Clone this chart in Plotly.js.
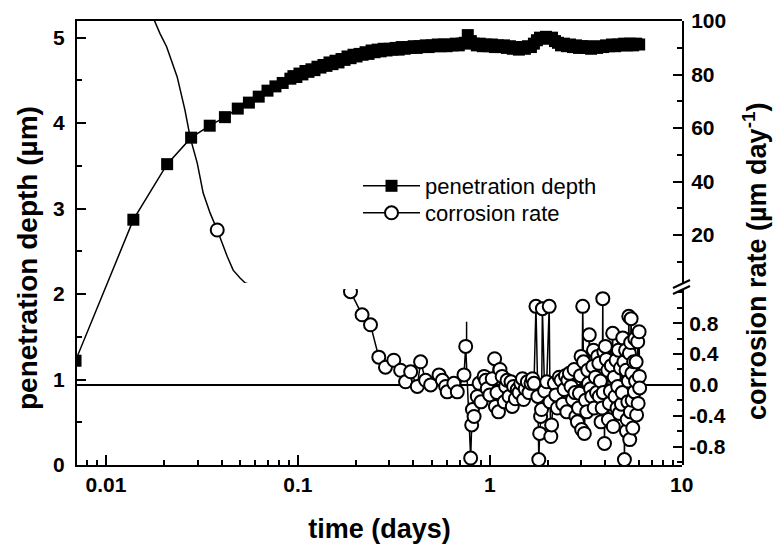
<!DOCTYPE html>
<html><head><meta charset="utf-8">
<script src="https://cdn.plot.ly/plotly-3.0.1.min.js"></script>
<style>html,body{margin:0;padding:0;background:#fff}</style>
</head><body>
<div id="chart" style="width:774px;height:544px"></div>
<script>
// ---- data ----
const depthTime = [0.00694,0.01389,0.02083,0.02778,0.03472,0.04167,0.04861,0.05556,0.0625,0.06944,0.07639,0.08333,
  0.0914,0.0948,0.0982,0.1019,0.1056,0.1095,0.1135,0.1177,0.1220,0.1265,
  0.1311,0.1359,0.1409,0.1461,0.1515,0.1570,0.1628,0.1688,0.1750,0.1814,
  0.1881,0.1950,0.2021,0.2096,0.2173,0.2252,0.2335,0.2421,0.2510,0.2602,
  0.2698,0.2797,0.2900,0.3006,0.3117,0.3231,0.3350,0.3473,0.3600,0.3733,
  0.3870,0.4012,0.4159,0.4312,0.4470,0.4635,0.4805,0.4981,0.5164,0.5354,
  0.5551,0.5755,0.5966,0.6185,0.6412,0.6648,0.6892,0.7145,0.7408,0.7680,
  0.7962,0.8255,0.8558,0.8872,0.9198,0.9536,0.9886,1.025,1.063,1.102,
  1.142,1.184,1.228,1.273,1.319,1.368,1.418,1.470,1.524,1.580,
  1.638,1.698,1.761,1.826,1.893,1.962,2.034,2.109,2.186,2.267,
  2.350,2.436,2.526,2.619,2.715,2.815,2.918,3.025,3.136,3.252,
  3.371,3.495,3.623,3.756,3.894,4.037,4.186,4.339,4.499,4.664,
  4.835,5.013,5.197,5.388,5.586,5.791,6.004];
const depthValue = [1.22,2.87,3.52,3.83,3.97,4.07,4.17,4.24,4.31,4.38,4.43,4.47,
  4.52,4.55,4.54,4.58,4.57,4.61,4.60,4.63,4.62,4.66,
  4.65,4.68,4.67,4.71,4.69,4.73,4.71,4.75,4.74,4.78,
  4.76,4.80,4.78,4.81,4.80,4.83,4.81,4.85,4.83,4.86,
  4.84,4.87,4.85,4.87,4.86,4.88,4.86,4.89,4.87,4.89,
  4.88,4.90,4.88,4.90,4.89,4.91,4.89,4.91,4.90,4.92,
  4.90,4.92,4.90,4.92,4.91,4.93,4.91,4.93,4.94,5.03,
  4.96,4.93,4.91,4.93,4.90,4.92,4.90,4.92,4.89,4.91,
  4.89,4.91,4.88,4.90,4.87,4.89,4.86,4.89,4.87,4.90,
  4.89,4.93,4.97,5.00,4.99,5.01,4.99,5.00,4.96,4.94,
  4.91,4.93,4.90,4.92,4.89,4.91,4.88,4.90,4.88,4.90,
  4.87,4.89,4.88,4.90,4.89,4.91,4.90,4.92,4.90,4.92,
  4.91,4.93,4.91,4.93,4.91,4.93,4.92];

// corrosion rate, high values (upper part of the broken right axis)
const rateHighTime = [0.0165,0.0191,0.0207,0.0235,0.0258,0.0275,0.0299,0.0321,0.0349,0.038,0.0428,0.046,0.0501,0.0532,0.06];
const rateHighValue = [106,95.4,90.4,79.1,66.7,56.3,46.9,35.7,28.2,21.9,12.1,6.9,3.9,2.1,1.0];
const rateHighMarkTime = [0.038];
const rateHighMarkValue = [21.9];

// corrosion rate, low values (lower part of the broken right axis)
const rateTime = [0.188,0.216,0.239,0.264,0.286,0.316,0.343,0.364,0.387,0.419,
  0.436,0.463,0.492,0.544,0.566,0.589,0.600,0.650,0.677,0.734,
  0.749,0.795,0.805,0.812,0.828,0.861,0.88,0.90,0.934,0.953,
  0.97,1.00,1.03,1.06,1.07,1.09,1.11,1.13,1.16,1.19,
  1.21,1.23,1.26,1.29,1.31,1.33,1.36,1.39,1.42,1.45,
  1.48,1.50,1.53,1.57,1.60,1.64,1.67,1.70,1.74,1.78,
  1.80,1.82,1.84,1.86,1.88,1.93,1.98,2.04,2.06,2.08,
  2.10,2.17,2.21,2.25,2.30,2.35,2.40,2.44,2.48,2.52,
  2.55,2.60,2.65,2.70,2.75,2.78,2.81,2.86,2.90,2.93,
  2.97,2.99,3.01,3.05,3.08,3.11,3.15,3.20,3.24,3.27,
  3.30,3.35,3.40,3.44,3.47,3.50,3.55,3.60,3.65,3.70,
  3.72,3.77,3.80,3.85,3.88,3.90,3.93,3.96,4.00,4.05,
  4.12,4.15,4.20,4.25,4.30,4.37,4.40,4.45,4.50,4.55,
  4.60,4.64,4.68,4.73,4.80,4.85,4.90,4.93,5.00,5.03,
  5.10,5.13,5.15,5.20,5.24,5.27,5.30,5.34,5.36,5.40,
  5.42,5.45,5.50,5.52,5.56,5.62,5.67,5.70,5.75,5.79,
  5.82,5.90,5.93,6.00,6.02,6.04];
const rateValue = [1.21,0.91,0.78,0.36,0.23,0.32,0.19,0.04,0.17,-0.02,
  0.30,0.06,0.00,0.13,0.06,-0.02,-0.09,0.02,-0.09,0.13,
  0.50,-0.95,-0.52,-0.32,-0.41,-0.15,0.02,-0.22,0.11,0.06,
  -0.05,-0.13,0.08,0.34,-0.28,-0.10,-0.35,0.20,0.11,-0.22,
  -0.02,0.06,-0.15,0.04,-0.28,-0.02,-0.18,-0.06,-0.10,0.02,
  0.08,-0.19,-0.05,0.04,-0.10,0.02,0.08,0.02,1.02,-0.15,
  -0.97,-0.63,-0.41,-0.32,0.99,-0.08,0.04,1.02,-0.22,-0.67,
  -0.52,0.02,-0.13,-0.30,0.10,0.06,-0.25,-0.06,0.12,-0.35,
  0.06,0.15,-0.02,-0.19,0.20,-0.10,-0.41,-0.48,-0.30,-0.11,
  0.12,0.37,-0.58,1.02,0.30,-0.63,-0.20,-0.35,0.19,0.02,
  0.65,-0.05,-0.15,0.24,0.45,-0.30,0.10,-0.10,0.37,0.28,
  -0.15,0.05,-0.48,-0.30,1.12,-0.10,0.43,-0.76,0.50,0.33,
  0.19,-0.45,-0.24,-0.08,0.25,0.67,-0.54,0.10,-0.15,0.32,
  -0.30,-0.02,0.45,-0.37,0.22,-0.25,-0.10,0.61,0.30,-0.97,
  0.45,0.19,-0.60,-0.45,-0.22,0.05,0.89,0.41,-0.71,-0.35,
  0.55,0.86,0.15,-0.20,-0.56,0.30,-0.09,0.60,0.05,0.30,
  -0.39,0.56,-0.24,0.69,0.11,-0.04];
const rateSpikeTime = [0.757,0.757];
const rateSpikeValue = [0.50,0.82];

const xTickVals = [0.01,0.1,1,10];
const xTickText = ['0.01','0.1','1','10'];
const depthTickVals = [0,1,2,3,4,5];
const rateHighTickVals = [20,40,60,80,100];
const rateLowTickVals = [-0.8,-0.4,0,0.4,0.8];
const rateLowTickText = ['-0.8','-0.4','0.0','0.4','0.8'];

// ---- style ----
const FONT = 'Liberation Sans, Arial, Helvetica, sans-serif';
const tickFont = {family: FONT, size: 21, color: '#000', weight: 'bold'};
const titleFont = {family: FONT, size: 27, color: '#000', weight: 'bold'};
const leftTitleFont = {family: FONT, size: 28, color: '#000', weight: 'bold'};
const legendFont = {family: FONT, size: 22, color: '#000'};
const minorBase = {ticks: 'inside', ticklen: 5, tickwidth: 2, tickcolor: '#000', showgrid: false};
const baseAxis = {showgrid: false, zeroline: false, showline: true, linecolor: '#000', linewidth: 2,
  ticks: 'inside', ticklen: 9, tickwidth: 2, tickcolor: '#000', tickfont: tickFont, ticklabelstandoff: 6};

const xMinor = [];
for (let d = -3; d <= 1; d++) for (let k = 2; k <= 9; k++) xMinor.push(k * Math.pow(10, d));

const lineStyle = {color: '#000', width: 1.5};
const circleMarker = {symbol: 'circle', size: 13, color: '#fff', line: {color: '#000', width: 2}};

const traces = [
  {x: depthTime, y: depthValue, xaxis: 'x', yaxis: 'y', mode: 'lines+markers', name: 'penetration depth',
   legend: 'legend', line: lineStyle, marker: {symbol: 'square', size: 12, color: '#000'}},
  {x: rateSpikeTime, y: rateSpikeValue, xaxis: 'x', yaxis: 'y3', mode: 'lines', showlegend: false, line: lineStyle},
  {x: rateTime, y: rateValue, xaxis: 'x', yaxis: 'y3', mode: 'lines+markers', name: 'corrosion rate',
   legend: 'legend2', line: lineStyle, marker: circleMarker},
  {x: rateHighTime, y: rateHighValue, xaxis: 'x', yaxis: 'y2', mode: 'lines', showlegend: false, line: lineStyle},
  {x: rateHighMarkTime, y: rateHighMarkValue, xaxis: 'x', yaxis: 'y2', mode: 'markers', showlegend: false, marker: circleMarker}
];

const L = 77, R = 682, T = 21, B = 465;
const px = v => (v - L) / (R - L);
const py = v => (B - v) / (B - T);

const legendBase = {xanchor: 'left', yanchor: 'top', bgcolor: 'rgba(0,0,0,0)', font: legendFont, itemwidth: 57};

const layout = {
  width: 774, height: 544,
  margin: {l: L, r: 774 - R, t: T, b: 544 - B, pad: 0},
  paper_bgcolor: '#fff', plot_bgcolor: 'rgba(0,0,0,0)',
  showlegend: true,
  legend: Object.assign({}, legendBase, {x: px(358), y: py(165)}),
  legend2: Object.assign({}, legendBase, {x: px(358), y: py(192)}),
  xaxis: Object.assign({}, baseAxis, {type: 'log', range: [-2.151, 1.0016], anchor: 'y', mirror: true,
    tickmode: 'array', tickvals: xTickVals, ticktext: xTickText, ticklen: 10, ticklabelstandoff: 0,
    minor: Object.assign({}, minorBase, {tickmode: 'array', tickvals: xMinor}),
    title: {text: 'time (days)', font: titleFont, standoff: 26}}),
  yaxis: Object.assign({}, baseAxis, {domain: [0, 1], range: [0, 5.195], anchor: 'x',
    tickmode: 'array', tickvals: depthTickVals, minor: Object.assign({}, minorBase, {dtick: 0.5, tick0: 0})}),
  yaxis2: Object.assign({}, baseAxis, {domain: [py(283), 1], range: [2.1, 100], anchor: 'x', side: 'right',
    ticklabelstandoff: 3,
    tickmode: 'array', tickvals: rateHighTickVals, minor: Object.assign({}, minorBase, {dtick: 10, tick0: 0})}),
  yaxis3: Object.assign({}, baseAxis, {domain: [0, py(289)], range: [-1.04, 1.245], anchor: 'x', side: 'right',
    ticklabelstandoff: 1,
    tickmode: 'array', tickvals: rateLowTickVals, ticktext: rateLowTickText,
    zeroline: true, zerolinecolor: '#000', zerolinewidth: 2,
    minor: Object.assign({}, minorBase, {dtick: 0.2, tick0: 0})}),
  annotations: [
    {xref: 'paper', yref: 'paper', x: px(27), y: py(258), xanchor: 'center', yanchor: 'middle',
     text: 'penetration depth (µm)', textangle: -90, showarrow: false, font: leftTitleFont},
    {xref: 'paper', yref: 'paper', x: px(755), y: py(262), xanchor: 'center', yanchor: 'middle',
     text: 'corrosion rate (µm day<sup>-1</sup>)', textangle: -90, showarrow: false, font: titleFont}
  ],
  shapes: [
    {type: 'line', xref: 'paper', yref: 'paper', x0: px(673), y0: py(288), x1: px(690), y1: py(280), line: {color: '#000', width: 2}},
    {type: 'line', xref: 'paper', yref: 'paper', x0: px(673), y0: py(294), x1: px(690), y1: py(286), line: {color: '#000', width: 2}}
  ]
};

Plotly.newPlot('chart', traces, layout, {displayModeBar: false, staticPlot: true});
</script>
</body></html>
